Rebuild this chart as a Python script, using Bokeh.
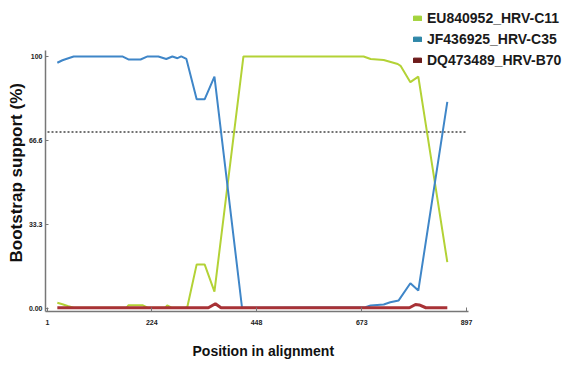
from bokeh.plotting import figure
from bokeh.models import Range1d, Legend, LegendItem, FixedTicker, ColumnDataSource, Title
from bokeh.embed import file_html
from bokeh.resources import INLINE

# ---- data ----
x_ticks = [1, 224, 448, 673, 897]
y_ticks = [0, 33.3, 66.6, 100]
y_tick_labels = ["0.00", "33.3", "66.6", "100"]
threshold = 70

names = ["EU840952_HRV-C11", "JF436925_HRV-C35", "DQ473489_HRV-B70"]

green_pos = [22, 33, 44, 57, 170, 174, 204, 215, 253, 257, 266, 296, 300, 320, 337, 358, 420, 677, 692, 720, 750, 756, 777, 794, 856]
green_val = [2.3, 1.7, 1.0, 0.3, 0.3, 1.3, 1.3, 0.3, 0.3, 1.2, 0.3, 0.3, 0.6, 17.5, 17.5, 6.7, 100, 100, 99, 98.6, 97, 96.3, 89.8, 92, 18.4]

blue_pos = [22, 33, 44, 57, 161, 174, 200, 215, 238, 255, 268, 279, 287, 298, 320, 337, 358, 417, 681, 692, 720, 734, 752, 777, 794, 856]
blue_val = [97.5, 98.5, 99.2, 100, 100, 98.8, 98.8, 100, 100, 99, 100, 99.3, 100, 99, 83, 83, 92, 0.3, 0.5, 1.2, 1.6, 2.5, 3.2, 10, 7.1, 82]

red_pos = [22, 345, 360, 372, 775, 788, 796, 810, 856]
red_val = [0.3, 0.3, 1.9, 0.3, 0.3, 1.6, 1.4, 0.3, 0.3]

line_colors = ["#b3d236", "#3f86c8", "#a83236"]
legend_colors = ["#a3d33c", "#2f87a8", "#6d1b1b"]

# axis extents (data units)
x_lo, x_hi = -3.3, 901
y_lo, y_hi = -1.19, 102.4

# ---- figure ----
p = figure(width=566, height=371, output_backend="svg", toolbar_location=None,
           x_range=Range1d(x_lo, 1110.9), y_range=Range1d(y_lo, 122.2),
           min_border_left=45, min_border_right=0, min_border_top=0, min_border_bottom=60)
p.outline_line_color = None
p.grid.visible = False
p.background_fill_color = "white"

p.segment(x0=[x_ticks[0]], x1=[x_ticks[-1]], y0=[threshold], y1=[threshold],
          line_color="#444444", line_dash="2 2", line_width=1.5)

p.line(green_pos, green_val, line_color=line_colors[0], line_width=2)
p.line(blue_pos, blue_val, line_color=line_colors[1], line_width=2)
p.line(red_pos, red_val, line_color=line_colors[2], line_width=3)

# legend swatches (glyph only drawn in the legend)
nan = float("nan")
items = []
for name, c in zip(names, legend_colors):
    src = ColumnDataSource(dict(left=[nan], right=[nan], top=[nan], bottom=[nan]))
    r = p.quad(left="left", right="right", top="top", bottom="bottom", source=src,
               fill_color=c, line_color=c)
    items.append(LegendItem(label=name, renderers=[r]))

legend = Legend(items=items, location=(367, 241), orientation="vertical",
                glyph_width=10, glyph_height=6, label_standoff=5,
                label_height=20, spacing=1, padding=0, margin=0,
                border_line_color=None, background_fill_alpha=0,
                label_text_font="Liberation Sans", label_text_font_style="bold",
                label_text_font_size="14px", label_text_color="#1a1a1a")
p.add_layout(legend, "center")

# axes
for ax in (p.xaxis, p.yaxis):
    ax.axis_line_color = "#777777"
    ax.axis_line_width = 1.5
    ax.major_tick_line_color = "#777777"
    ax.minor_tick_line_color = None
    ax.major_label_text_font = "Liberation Sans"
    ax.major_label_text_font_style = "bold"
    ax.major_label_text_font_size = "7px"
    ax.major_label_text_color = "#222222"

p.xaxis.bounds = (x_lo, x_hi)
p.xaxis.ticker = FixedTicker(ticks=x_ticks)
p.xaxis.major_tick_in = 4
p.xaxis.major_tick_out = 0
p.xaxis.major_label_standoff = 8

p.yaxis.bounds = (y_lo, y_hi)
p.yaxis.ticker = FixedTicker(ticks=y_ticks)
p.yaxis.major_label_overrides = {t: l for t, l in zip(y_ticks, y_tick_labels)}
p.yaxis.major_tick_in = 3
p.yaxis.major_tick_out = 0
p.yaxis.major_label_standoff = 3

# axis titles (as titles so they can be placed along the drawn axis, not the frame)
ytitle = Title(text="Bootstrap support (%)", align="left", offset=49, standoff=0,
               text_font="Liberation Sans", text_font_style="bold",
               text_font_size="17px", text_color="#111111")
p.add_layout(ytitle, "left")
xtitle = Title(text="Position in alignment", align="left", offset=147, standoff=26,
               text_font="Liberation Sans", text_font_style="bold",
               text_font_size="14px", text_color="#111111")
p.add_layout(xtitle, "below")

open("out.html", "w").write(file_html(p, INLINE))
